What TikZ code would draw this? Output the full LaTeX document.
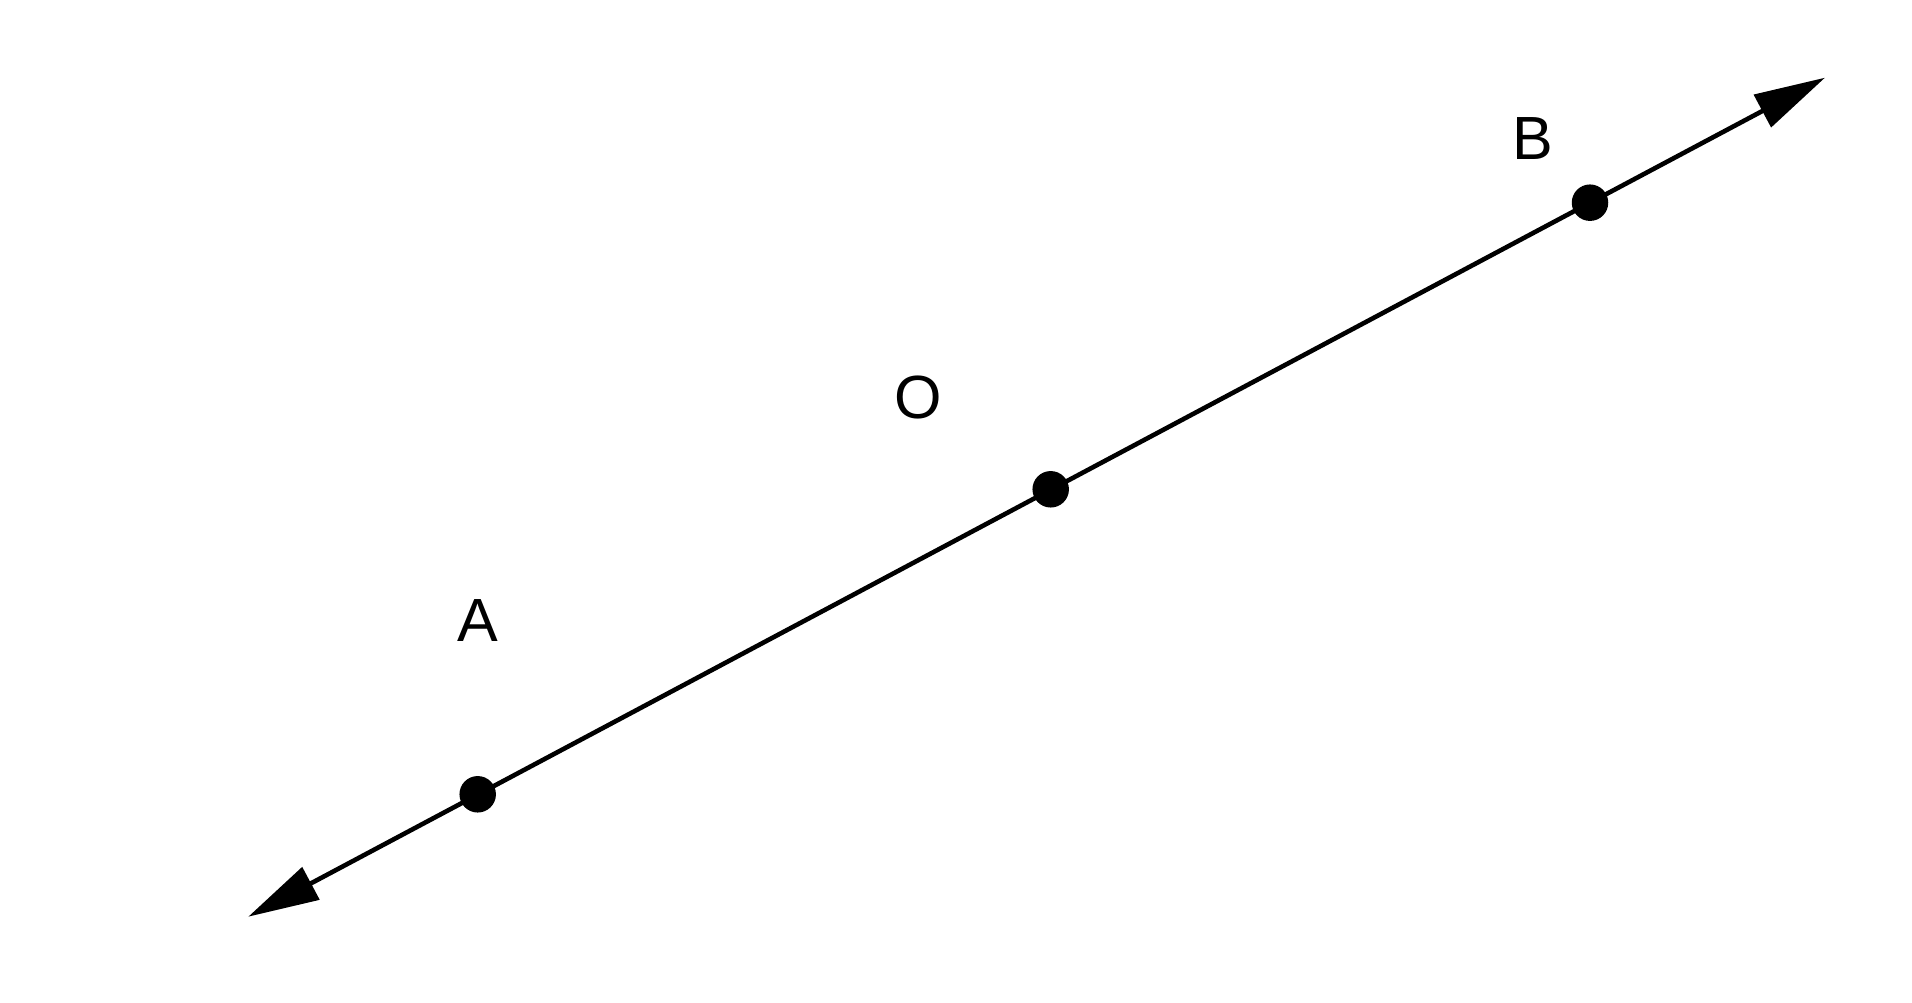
\documentclass[tikz,border=0pt]{standalone}
\usepackage{fontspec}
\setmainfont{Liberation Sans}
\usetikzlibrary{arrows.meta}
\begin{document}
\begin{tikzpicture}[x=1pt,y=1pt,
  dot/.style={circle,fill=black,inner sep=0pt,minimum size=36.5pt},
  lbl/.style={font=\fontsize{61}{61}\selectfont,inner sep=0pt},
  line/.style={line width=4.6pt,{Triangle[length=71pt,width=36pt]}-{Triangle[length=71pt,width=36pt]}}]
\useasboundingbox (0,0) rectangle (1912,1002);
\coordinate (tA) at (248.3,85.3);
\coordinate (tB) at (1825,924.3);
\draw[line] (tA) -- (tB);
\node[dot] (A) at (477.7,207.7) {};
\node[dot] (O) at (1050.7,512.7) {};
\node[dot] (B) at (1590,799.3) {};
\node[lbl] (lA) at (477.5,381.5) {A};
\node[lbl] (lO) at (918,604) {O};
\node[lbl] (lB) at (1533,863.5) {B};
\end{tikzpicture}
\end{document}
